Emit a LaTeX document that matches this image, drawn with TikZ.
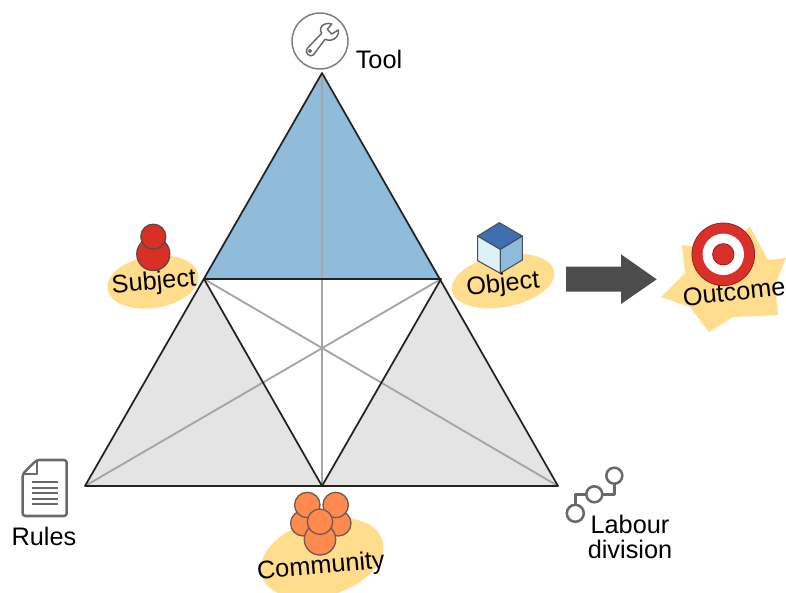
\documentclass[tikz,border=0pt]{standalone}
\usepackage{fontspec}
\setmainfont{Liberation Sans}

\tikzset{
  edgeblack/.style={color={rgb, 255:red, 34; green, 34; blue, 34 }, line width=1.3pt, line join=round},
  edgegrey/.style={color={rgb, 255:red, 165; green, 165; blue, 165 }, line width=1.4pt},
  blob/.style={fill={rgb, 255:red, 255; green, 221; blue, 140 }, draw opacity=0},
  redball/.style={draw={rgb, 255:red, 96; green, 70; blue, 70 }, fill={rgb, 255:red, 217; green, 48; blue, 38 }, line width=1pt},
  orangeball/.style={draw={rgb, 255:red, 110; green, 92; blue, 80 }, fill={rgb, 255:red, 255; green, 138; blue, 80 }, line width=1pt},
  iconline/.style={draw={rgb, 255:red, 105; green, 105; blue, 105 }, line width=1.9pt, line join=round},
  textlabel/.style={inner sep=0.75pt, font=\fontsize{19}{19}\selectfont, align=center}
}

\begin{document}
\begin{tikzpicture}[x=0.75pt,y=0.75pt,yscale=-1,xscale=1]
\useasboundingbox (0,0) rectangle (786,593);

%Corners of the triangle
\coordinate (apex) at (322,73);
\coordinate (left) at (85,486);
\coordinate (right) at (558,486);
\coordinate (midleft) at (204,279);
\coordinate (midright) at (441,279);
\coordinate (midbottom) at (322,486);

%Shape: Blue top triangle
\fill [fill={rgb, 255:red, 143; green, 188; blue, 219 }] (apex) -- (midleft) -- (midright) -- cycle ;
%Shape: Grey side triangles
\fill [fill={rgb, 255:red, 228; green, 228; blue, 228 }] (midleft) -- (left) -- (midbottom) -- cycle ;
\fill [fill={rgb, 255:red, 228; green, 228; blue, 228 }] (midright) -- (midbottom) -- (right) -- cycle ;
%Straight Lines: medians
\draw [edgegrey] (apex) -- (midbottom) ;
\draw [edgegrey] (left) -- (midright) ;
\draw [edgegrey] (right) -- (midleft) ;
%Straight Lines: outline
\draw [edgeblack] (apex) -- (left) -- (right) -- cycle ;
\draw [edgeblack] (midleft) -- (midright) -- (midbottom) -- cycle ;

%Shape: Tool icon
\draw [draw={rgb, 255:red, 125; green, 125; blue, 125 }, line width=1.1pt] (320,41) circle [radius=28] ;
\draw [iconline, line width=1.1pt] (307.3,48.3) -- (321.7,33.3) .. controls (319.5,30) and (320,26) .. (325,24) .. controls (327,23.2) and (330,23.2) .. (331.7,24) -- (327.3,29.3) -- (331.7,34) -- (338.3,30) .. controls (339,33) and (338,35) .. (336.7,36.7) .. controls (334,40.5) and (329,41) .. (325,39.3) -- (313.3,55) .. controls (310,58) and (304,52.5) .. (307.3,48.3) -- cycle ;
\draw [iconline, line width=0.9pt] (310,51) circle [radius=1.5] ;

%Shape: Subject icon
\fill [blob, rotate around={-9:(153,282)}] (153,282) ellipse [x radius=46, y radius=26] ;
\draw [redball] (153.3,254) circle [radius=16.5] ;
\draw [redball] (153.3,236.7) circle [radius=12.5] ;

%Shape: Object icon
\fill [blob, rotate around={-11:(503,281)}] (503,281) ellipse [x radius=52, y radius=26] ;
\draw [fill={rgb, 255:red, 223; green, 241; blue, 248 }, draw={rgb, 255:red, 70; green, 80; blue, 90 }, line width=0.8pt, line join=round] (477.7,236) -- (500.3,249.3) -- (500.3,273.3) -- (477.7,260.7) -- cycle ;
\draw [fill={rgb, 255:red, 143; green, 187; blue, 219 }, draw={rgb, 255:red, 70; green, 80; blue, 90 }, line width=0.8pt, line join=round] (500.3,249.3) -- (522.3,236) -- (522.3,260) -- (500.3,273.3) -- cycle ;
\draw [fill={rgb, 255:red, 63; green, 111; blue, 176 }, draw={rgb, 255:red, 70; green, 80; blue, 90 }, line width=0.8pt, line join=round] (499.3,222.7) -- (522.3,236) -- (500.3,249.3) -- (477.7,236) -- cycle ;

%Shape: Block arrow
\fill [fill={rgb, 255:red, 77; green, 77; blue, 77 }] (566,266.7) -- (621,266.7) -- (621,254.3) -- (656.7,279.3) -- (621,304) -- (621,291.7) -- (566,291.7) -- cycle ;

%Shape: Outcome star and target
\fill [blob] (661,297) -- (685,273) -- (682,245) -- (718,250) -- (750,227) -- (768,260) -- (786,258) -- (775,285) -- (778,315) -- (733,317) -- (709,332) -- (690,307) -- cycle ;
\draw [draw={rgb, 255:red, 150; green, 30; blue, 30 }, fill={rgb, 255:red, 217; green, 48; blue, 42 }, line width=0.6pt] (723.3,254.3) circle [radius=31.3] ;
\fill [white] (723.3,254.3) circle [radius=20.7] ;
\draw [draw={rgb, 255:red, 150; green, 30; blue, 30 }, fill={rgb, 255:red, 217; green, 48; blue, 42 }, line width=0.6pt] (723.3,254.3) circle [radius=10.7] ;

%Shape: Rules icon
\draw [iconline, rounded corners=2pt] (36.7,460) -- (66.7,460) -- (66.7,516) -- (22.7,516) -- (22.7,474) -- cycle ;
\draw [iconline, line width=1.2pt] (36.7,460) -- (36.7,474) -- (22.7,474) ;
\foreach \y in {481.7,487.7,493.3,499,504} {
  \draw [iconline, line width=1.4pt] (31.7,\y) -- (58.3,\y) ;
}

%Shape: Community icon
\fill [blob, rotate around={-16:(322,558)}] (322,558) ellipse [x radius=63, y radius=38] ;
\draw [orangeball] (303.3,523.3) circle [radius=12.7] ;
\draw [orangeball] (338.3,523.3) circle [radius=12.7] ;
\draw [orangeball] (307.3,505) circle [radius=12.7] ;
\draw [orangeball] (335.7,505) circle [radius=12.7] ;
\draw [orangeball] (320,539.3) circle [radius=15.7] ;
\draw [orangeball] (320,521.7) circle [radius=12.7] ;

%Shape: Labour division icon
\draw [iconline] (614.3,483.7) -- (614.3,494.3) -- (602.3,494.3) ;
\draw [iconline] (586.3,494.3) -- (575.3,494.3) -- (575.3,505) ;
\draw [iconline] (614.3,475.7) circle [radius=8] ;
\draw [iconline] (594.3,494.3) circle [radius=8] ;
\draw [iconline] (575.3,513.3) circle [radius=8.5] ;

% Text Node
\node (tool) at (379,59) [textlabel] {Tool};
% Text Node
\node (subject) at (154,283) [textlabel, rotate=5] {Subject};
% Text Node
\node (object) at (503,285) [textlabel, rotate=6] {Object};
% Text Node
\node (outcome) at (734,292) [textlabel, rotate=6] {Outcome};
% Text Node
\node (rules) at (44,536) [textlabel] {Rules};
% Text Node
\node (community) at (321,567) [textlabel, rotate=5] {Community};
% Text Node
\node (labour) at (630,537) [textlabel] {Labour\\division};

\end{tikzpicture}
\end{document}
